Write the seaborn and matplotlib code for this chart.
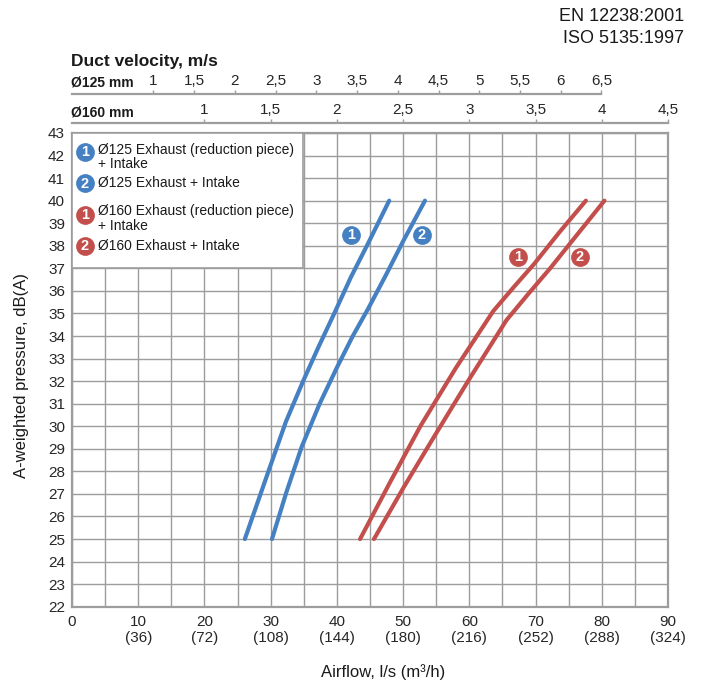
import numpy as np
import pandas as pd
import matplotlib
matplotlib.use("Agg")
import matplotlib.pyplot as plt
import seaborn as sns
from matplotlib.patches import Rectangle

# courbes (airflow l/s, pression dB(A))
blue1_x = [26.1, 28.0, 29.9, 32.3, 34.9, 37.2, 39.6, 42.1, 44.7, 47.9]
blue1_y = [25.0, 26.6, 28.2, 30.2, 32.0, 33.5, 35.0, 36.6, 38.1, 40.0]
blue2_x = [30.2, 32.4, 34.7, 37.4, 40.0, 42.4, 44.7, 47.4, 50.0, 53.3]
blue2_y = [25.0, 27.1, 29.1, 31.0, 32.6, 34.0, 35.2, 36.7, 38.2, 40.0]
red1_x = [43.5, 48.0, 52.6, 58.0, 63.6, 66.8, 69.8, 73.6, 77.6]
red1_y = [25.0, 27.5, 30.0, 32.6, 35.1, 36.2, 37.2, 38.6, 40.0]
red2_x = [45.6, 50.1, 54.6, 59.8, 65.6, 69.0, 72.2, 76.3, 80.4]
red2_y = [25.0, 27.3, 29.5, 32.0, 34.7, 35.9, 37.0, 38.5, 40.0]

airflow_ticks = [0, 10, 20, 30, 40, 50, 60, 70, 80, 90]
m3h_labels = ["", "(36)", "(72)", "(108)", "(144)", "(180)", "(216)", "(252)", "(288)", "(324)"]
db_ticks = list(range(22, 44))
v125_ticks = [1, 1.5, 2, 2.5, 3, 3.5, 4, 4.5, 5, 5.5, 6, 6.5]
v160_ticks = [1, 1.5, 2, 2.5, 3, 3.5, 4, 4.5]

legend_labels = [["Ø125 Exhaust (reduction piece)", "+ Intake"],
                 ["Ø125 Exhaust + Intake"],
                 ["Ø160 Exhaust (reduction piece)", "+ Intake"],
                 ["Ø160 Exhaust + Intake"]]

BLUE = "#4480c2"
RED = "#c34f4c"
GRID = "#9d9d9d"

sns.set_style("white")
plt.rcParams["font.family"] = ["Liberation Sans", "DejaVu Sans"]
plt.rcParams["text.color"] = "#1a1a1a"

W, H = 701, 684
fig = plt.figure(figsize=(W / 100, H / 100), dpi=100)

x0, x1, y0, y1 = 72, 668, 133, 606.7
ax = fig.add_axes([x0 / W, 1 - y1 / H, (x1 - x0) / W, (y1 - y0) / H])

df = pd.concat([
    pd.DataFrame({"airflow": blue1_x, "dB": blue1_y, "curve": "b1"}),
    pd.DataFrame({"airflow": blue2_x, "dB": blue2_y, "curve": "b2"}),
    pd.DataFrame({"airflow": red1_x, "dB": red1_y, "curve": "r1"}),
    pd.DataFrame({"airflow": red2_x, "dB": red2_y, "curve": "r2"}),
])
sns.lineplot(data=df, x="airflow", y="dB", hue="curve",
             palette={"b1": BLUE, "b2": BLUE, "r1": RED, "r2": RED},
             sort=False, estimator=None, lw=3.0, legend=False, ax=ax,
             solid_capstyle="round", solid_joinstyle="round", zorder=4)

ax.set_xlim(0, 90)
ax.set_ylim(22, 43)
ax.set_xticks(airflow_ticks)
ax.set_xticklabels([str(a) if m == "" else f"{a}\n{m}" for a, m in zip(airflow_ticks, m3h_labels)],
                   fontsize=11)
ax.set_xticks(np.arange(5, 90, 10), minor=True)
ax.set_yticks(db_ticks)
ax.set_yticklabels([str(d) for d in db_ticks], fontsize=11)
ax.tick_params(axis="both", which="both", length=3, width=1, color=GRID, direction="out")
ax.tick_params(axis="x", which="both", pad=3)
ax.tick_params(axis="y", pad=2)
ax.grid(True, which="both", color=GRID, lw=1)
ax.set_axisbelow(True)
for s in ax.spines.values():
    s.set_color(GRID)
    s.set_linewidth(1.6)
ax.set_xlabel("")
ax.set_ylabel("")

# boite de legende
ax.add_patch(Rectangle((0, 37.02), 34.9, 5.98, facecolor="white", edgecolor=GRID, lw=1.2, zorder=3))


def badge(x, y, num, color):
    ax.plot([x], [y], marker="o", ms=13.5, color=color, mec="none", zorder=5, clip_on=False)
    ax.text(x, y - 0.02, num, color="white", fontsize=10.5, fontweight="bold",
            ha="center", va="center", zorder=6)


leg_colors = [BLUE, BLUE, RED, RED]
leg_nums = ["1", "2", "1", "2"]
badge_y = [42.16, 40.78, 39.37, 37.99]
text_y = [[42.25, 41.62], [40.78], [39.52, 38.86], [37.99]]
for lab, c, n, by, ty in zip(legend_labels, leg_colors, leg_nums, badge_y, text_y):
    badge(1.96, by, n, c)
    for line, yy in zip(lab, ty):
        ax.text(3.9, yy, line, fontsize=10, ha="left", va="center", zorder=6)

# etiquettes des courbes
badge(42.2, 38.48, "1", BLUE)
badge(52.8, 38.48, "2", BLUE)
badge(67.4, 37.51, "1", RED)
badge(76.7, 37.51, "2", RED)


# echelles de vitesse en haut
def velocity_scale(y_px, factor, ticks, end):
    a = fig.add_axes([x0 / W, 1 - y_px / H, (x1 - x0) / W, 1e-4])
    a.set_xlim(0, 90)
    a.set_yticks([])
    for k in ["left", "right", "bottom"]:
        a.spines[k].set_visible(False)
    a.spines["top"].set_color(GRID)
    a.spines["top"].set_linewidth(1.6)
    a.spines["top"].set_bounds(0, end)
    a.patch.set_visible(False)
    a.xaxis.tick_top()
    a.set_xticks([v * factor for v in ticks])
    a.set_xticklabels([f"{v:g}".replace(".", ",") for v in ticks], fontsize=11)
    a.tick_params(axis="x", length=3, width=1, color=GRID, pad=1.5)


velocity_scale(94, 12.3, v125_ticks, 6.5 * 12.3)
velocity_scale(123.3, 20.0, v160_ticks, 90)

fig.text(71 / W, 1 - 66 / H, "Duct velocity, m/s", fontsize=12.5, fontweight="bold", va="baseline")
fig.text(71 / W, 1 - 86.7 / H, "Ø125 mm", fontsize=10, fontweight="bold", va="baseline")
fig.text(71 / W, 1 - 116.7 / H, "Ø160 mm", fontsize=10, fontweight="bold", va="baseline")
fig.text(684 / W, 1 - 20.7 / H, "EN 12238:2001", fontsize=13, ha="right", va="baseline")
fig.text(684 / W, 1 - 42.7 / H, "ISO 5135:1997", fontsize=13, ha="right", va="baseline")
fig.text(383 / W, 1 - 676.7 / H, "Airflow, l/s (m³/h)", fontsize=12, ha="center", va="baseline")
fig.text(22 / W, 1 - 375 / H, "A-weighted pressure, dB(A)", fontsize=12, rotation=90,
         ha="center", va="center")

fig.savefig("out.png", dpi=100)
